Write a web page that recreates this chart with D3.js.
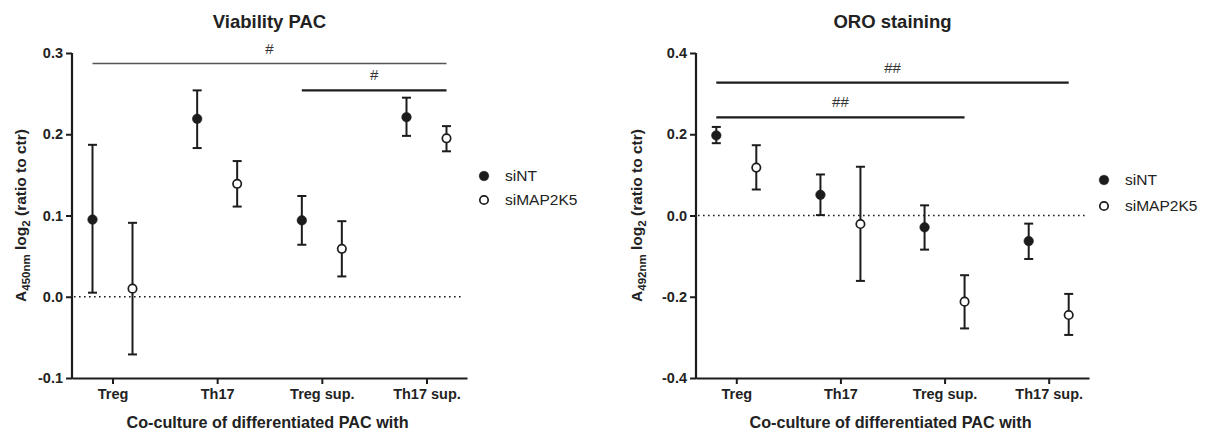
<!DOCTYPE html>
<html><head><meta charset="utf-8">
<script src="https://cdn.jsdelivr.net/npm/d3@7"></script>
<style>
body{margin:0;background:#fff;}
svg{font-family:"Liberation Sans",Arial,sans-serif;}
</style></head><body>
<svg id="chart" width="1209" height="432"></svg>
<script>
const categories = ["Treg","Th17","Treg sup.","Th17 sup."];
const seriesNames = ["siNT","siMAP2K5"];

// Viability PAC
const viabSiNT      = [0.095, 0.219, 0.094, 0.221];
const viabSiNTLo    = [0.005, 0.183, 0.064, 0.198];
const viabSiNTHi    = [0.187, 0.254, 0.124, 0.245];
const viabSiMAP     = [0.010, 0.139, 0.059, 0.195];
const viabSiMAPLo   = [-0.071, 0.111, 0.025, 0.179];
const viabSiMAPHi   = [0.091, 0.167, 0.093, 0.210];
const viabTicks     = [-0.1, 0.0, 0.1, 0.2, 0.3];
const viabTickLabels= ["-0.1","0.0","0.1","0.2","0.3"];
const viabSig = [
  {from:"Treg", to:"Th17 sup.", y:0.287, label:"#", gray:true},
  {from:"Treg sup.", to:"Th17 sup.", y:0.254, label:"#", gray:false}
];

// ORO staining
const oroSiNT      = [0.197, 0.051, -0.029, -0.063];
const oroSiNTLo    = [0.178, 0.001, -0.084, -0.107];
const oroSiNTHi    = [0.218, 0.101, 0.025, -0.020];
const oroSiMAP     = [0.118, -0.021, -0.212, -0.245];
const oroSiMAPLo   = [0.064, -0.161, -0.278, -0.294];
const oroSiMAPHi   = [0.173, 0.120, -0.147, -0.193];
const oroTicks     = [-0.4, -0.2, 0.0, 0.2, 0.4];
const oroTickLabels= ["-0.4","-0.2","0.0","0.2","0.4"];
const oroSig = [
  {from:"Treg", to:"Th17 sup.", y:0.327, label:"##", gray:false},
  {from:"Treg", to:"Treg sup.", y:0.2415, label:"##", gray:false}
];

const svg = d3.select("#chart");
const INK = "#1c1c1c";

function panel(o){
  const g = svg.append("g");
  const y = d3.scaleLinear().domain(o.yDomain).range([378, 53]);
  const x = d3.scalePoint().domain(categories).range([o.x0, o.x1]).padding(0.387);
  const off = 20;

  // axes
  const yAxis = d3.axisLeft(y).tickValues(o.ticks).tickFormat((d,i)=>o.tickLabels[i]).tickSize(6).tickSizeOuter(0);
  const ya = g.append("g").attr("transform",`translate(${o.x0},0)`).call(yAxis);
  const xAxis = d3.axisBottom(x).tickSize(6).tickSizeOuter(0);
  const xa = g.append("g").attr("transform",`translate(0,378)`).call(xAxis);
  [ya,xa].forEach(a=>{
    a.select(".domain").attr("stroke",INK).attr("stroke-width",2.2);
    a.selectAll(".tick line").attr("stroke",INK).attr("stroke-width",2);
    a.selectAll(".tick text").attr("fill","#222").attr("font-size",14.5).attr("font-weight","bold");
  });
  ya.select(".domain").attr("d",`M0,${y(o.yDomain[1])}V${y(o.yDomain[0])+1}`);
  ya.selectAll(".tick text").attr("x",-9);
  xa.selectAll(".tick text").attr("y",11);

  // zero line
  g.append("line").attr("x1",o.x0+2).attr("x2",o.x1-4).attr("y1",y(0)).attr("y2",y(0))
    .attr("stroke",INK).attr("stroke-width",1.6).attr("stroke-dasharray","1.6,3.4");

  // significance
  o.sig.forEach(s=>{
    const xa1 = x(s.from)-off, xa2 = x(s.to)+off;
    g.append("line").attr("x1",xa1).attr("x2",xa2).attr("y1",y(s.y)).attr("y2",y(s.y))
      .attr("stroke", s.gray ? "#555" : INK).attr("stroke-width", s.gray ? 1.5 : 2.2);
    g.append("text").attr("x",(xa1+xa2)/2).attr("y",y(s.y)-10).attr("text-anchor","middle")
      .attr("font-size",15).attr("fill","#333").text(s.label);
  });

  // series
  const series = [
    {v:o.s1, lo:o.s1lo, hi:o.s1hi, dx:-off, filled:true},
    {v:o.s2, lo:o.s2lo, hi:o.s2hi, dx:off, filled:false}
  ];
  series.forEach(s=>{
    categories.forEach((c,i)=>{
      const cx = x(c)+s.dx;
      g.append("line").attr("x1",cx).attr("x2",cx).attr("y1",y(s.lo[i])).attr("y2",y(s.hi[i])).attr("stroke",INK).attr("stroke-width",2);
      [s.lo[i],s.hi[i]].forEach(v=>{
        g.append("line").attr("x1",cx-4.5).attr("x2",cx+4.5).attr("y1",y(v)).attr("y2",y(v)).attr("stroke",INK).attr("stroke-width",2);
      });
      g.append("circle").attr("cx",cx).attr("cy",y(s.v[i])).attr("r", s.filled?4.8:4.2)
        .attr("fill", s.filled?INK:"#fff").attr("stroke",INK).attr("stroke-width", s.filled?0.5:1.7);
    });
  });

  // title
  g.append("text").attr("x",(o.x0+o.x1)/2).attr("y",28).attr("text-anchor","middle")
    .attr("font-size",18.5).attr("font-weight","bold").attr("fill","#222").text(o.title);
  // x label
  g.append("text").attr("x",(o.x0+o.x1)/2-2).attr("y",428).attr("text-anchor","middle")
    .attr("font-size",16.2).attr("font-weight","bold").attr("fill","#222").text("Co-culture of differentiated PAC with");
  // y label
  const yl = g.append("text").attr("transform",`translate(${o.ylx},${(53+378)/2}) rotate(-90)`)
    .attr("text-anchor","middle").attr("font-size",15.5).attr("font-weight","bold").attr("fill","#222");
  yl.append("tspan").text("A");
  yl.append("tspan").attr("font-size",11.5).attr("dy",4).text(o.wl);
  yl.append("tspan").attr("dy",-4).text(" log");
  yl.append("tspan").attr("font-size",11.5).attr("dy",4).text("2");
  yl.append("tspan").attr("dy",-4).text(" (ratio to ctr)");

  // legend
  seriesNames.forEach((n,i)=>{
    const ly = o.legY + i*o.legGap;
    g.append("circle").attr("cx",o.legX).attr("cy",ly).attr("r", i==0?4.8:4.2)
      .attr("fill", i==0?INK:"#fff").attr("stroke",INK).attr("stroke-width", i==0?0.5:1.7);
    g.append("text").attr("x",o.legX+21).attr("y",ly+5).attr("font-size",15.5).attr("fill","#222").text(n);
  });
}

panel({x0:72, x1:467, yDomain:[-0.1,0.3], ticks:viabTicks, tickLabels:viabTickLabels,
  s1:viabSiNT, s1lo:viabSiNTLo, s1hi:viabSiNTHi, s2:viabSiMAP, s2lo:viabSiMAPLo, s2hi:viabSiMAPHi,
  sig:viabSig, title:"Viability PAC", wl:"450nm", ylx:26, legX:484, legY:176, legGap:24});
panel({x0:696, x1:1089, yDomain:[-0.4,0.4], ticks:oroTicks, tickLabels:oroTickLabels,
  s1:oroSiNT, s1lo:oroSiNTLo, s1hi:oroSiNTHi, s2:oroSiMAP, s2lo:oroSiMAPLo, s2hi:oroSiMAPHi,
  sig:oroSig, title:"ORO staining", wl:"492nm", ylx:642, legX:1104, legY:180, legGap:26});
</script>
</body></html>
